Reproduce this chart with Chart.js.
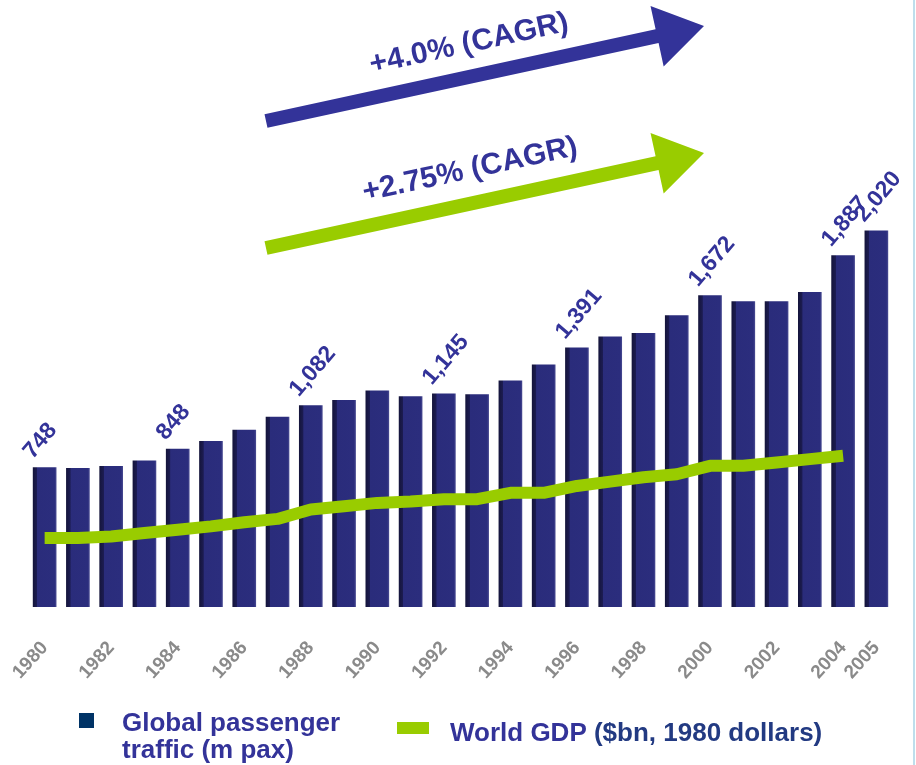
<!DOCTYPE html>
<html>
<head>
<meta charset="utf-8">
<script src="https://cdn.jsdelivr.net/npm/chart.js@4/dist/chart.umd.min.js"></script>
<style>
  html, body { margin: 0; padding: 0; background: #ffffff; }
  #wrap { position: relative; width: 916px; height: 765px; }
</style>
</head>
<body>
<div id="wrap"><canvas id="chart" width="916" height="765"></canvas></div>
<script>
// Years on the category axis
const years = ['1980','1981','1982','1983','1984','1985','1986','1987','1988','1989',
               '1990','1991','1992','1993','1994','1995','1996','1997','1998','1999',
               '2000','2001','2002','2003','2004','2005'];

// Global passenger traffic, millions of passengers
const passengers = [748, 745, 755, 785, 848, 890, 950, 1020, 1082, 1110,
                    1160, 1130, 1145, 1140, 1215, 1300, 1391, 1450, 1470, 1565,
                    1672, 1640, 1640, 1690, 1887, 2020];

// World GDP, $bn in 1980 dollars (no figure yet for 2005)
const worldGdp = [11100, 11100, 11370, 11910, 12450, 12990, 13650, 14190, 15720, 16230,
                  16770, 16980, 17340, 17370, 18390, 18390, 19500, 20190, 20910, 21390,
                  22740, 22740, 23280, 23820, 24360, null];

// Years whose bars carry a value label, and years shown on the axis
const labelledYears = ['1980','1984','1988','1992','1996','2000','2004','2005'];
const tickYears = ['1980','1982','1984','1986','1988','1990','1992','1994','1996',
                   '1998','2000','2002','2004','2005'];

// Growth-rate callouts
const growthNotes = ['+4.0% (CAGR)', '+2.75% (CAGR)'];

// Legend texts
const legendTraffic = ['Global passenger', 'traffic (m pax)'];
const legendGdp = ['World GDP ', '($bn, 1980 dollars)'];

const NAVY = '#333399';
const GREEN = '#99cc00';
const FONT = "'Liberation Sans', Arial, sans-serif";
const BAR_W = 23;

// Shaded face for each bar: darker left side gives the extruded look
function barFill(c) {
  const chart = c.chart;
  const xs = chart.scales && chart.scales.x;
  if (!xs || c.dataIndex === undefined) return '#2b2d7d';
  const x = xs.getPixelForValue(c.dataIndex);
  if (!Number.isFinite(x)) return '#2b2d7d';
  const g = chart.ctx.createLinearGradient(x - BAR_W / 2, 0, x + BAR_W / 2, 0);
  g.addColorStop(0, '#15153c');
  g.addColorStop(0.17, '#1c1c52');
  g.addColorStop(0.19, '#2a2c7b');
  g.addColorStop(0.93, '#2b2d7d');
  g.addColorStop(1, '#45478f');
  return g;
}

function drawArrow(ctx, x0, y0, x1, y1, shaftW, headLen, headHalf, color) {
  const len = Math.hypot(x1 - x0, y1 - y0);
  const ux = (x1 - x0) / len, uy = (y1 - y0) / len;
  const nx = -uy, ny = ux;
  const bx = x1 - ux * headLen, by = y1 - uy * headLen;
  ctx.beginPath();
  ctx.moveTo(x0 + nx * shaftW / 2, y0 + ny * shaftW / 2);
  ctx.lineTo(bx + nx * shaftW / 2, by + ny * shaftW / 2);
  ctx.lineTo(bx + nx * headHalf, by + ny * headHalf);
  ctx.lineTo(x1, y1);
  ctx.lineTo(bx - nx * headHalf, by - ny * headHalf);
  ctx.lineTo(bx - nx * shaftW / 2, by - ny * shaftW / 2);
  ctx.lineTo(x0 - nx * shaftW / 2, y0 - ny * shaftW / 2);
  ctx.closePath();
  ctx.fillStyle = color;
  ctx.fill();
}

const decorations = {
  id: 'decorations',
  afterDatasetsDraw(chart) {
    const ctx = chart.ctx;

    // value labels over selected bars
    const meta = chart.getDatasetMeta(1);
    ctx.save();
    ctx.fillStyle = NAVY;
    ctx.font = 'bold 23px ' + FONT;
    ctx.textAlign = 'left';
    ctx.textBaseline = 'alphabetic';
    years.forEach((yr, i) => {
      if (!labelledYears.includes(yr)) return;
      const el = meta.data[i];
      ctx.save();
      ctx.translate(el.x - 12, el.y - 8);
      ctx.rotate(-0.86);
      ctx.fillText(passengers[i].toLocaleString('en-US'), 0, 0);
      ctx.restore();
    });
    ctx.restore();
  },
  afterDraw(chart) {
    const ctx = chart.ctx;
    ctx.save();

    // growth arrows with their captions
    const arrows = [
      { x0: 266, y0: 121, x1: 704, y1: 26, color: NAVY, text: growthNotes[0], tx: 469, ty: 44 },
      { x0: 266, y0: 248, x1: 704, y1: 153, color: GREEN, text: growthNotes[1], tx: 470, ty: 170 }
    ];
    arrows.forEach(a => {
      drawArrow(ctx, a.x0, a.y0, a.x1, a.y1, 14, 48, 31, a.color);
      const ang = Math.atan2(a.y1 - a.y0, a.x1 - a.x0);
      ctx.save();
      ctx.translate(a.tx, a.ty);
      ctx.rotate(ang);
      ctx.fillStyle = NAVY;
      ctx.font = 'bold 30px ' + FONT;
      ctx.textAlign = 'center';
      ctx.textBaseline = 'middle';
      ctx.fillText(a.text, 0, 0);
      ctx.restore();
    });

    // legend
    ctx.font = 'bold 26px ' + FONT;
    ctx.textAlign = 'left';
    ctx.textBaseline = 'alphabetic';
    ctx.fillStyle = '#003366';
    ctx.fillRect(79, 713, 15, 15);
    ctx.fillStyle = NAVY;
    ctx.fillText(legendTraffic[0], 122, 731);
    ctx.fillText(legendTraffic[1], 122, 758);
    ctx.fillStyle = GREEN;
    ctx.fillRect(397, 722, 32, 12);
    ctx.fillStyle = NAVY;
    ctx.fillText(legendGdp[0], 450, 741);
    const w0 = ctx.measureText(legendGdp[0]).width;
    ctx.fillStyle = '#223a82';
    ctx.fillText(legendGdp[1], 450 + w0, 741);

    // thin frame line on the right edge
    ctx.strokeStyle = '#a9d3e6';
    ctx.lineWidth = 1.5;
    ctx.beginPath();
    ctx.moveTo(914, 0);
    ctx.lineTo(914, 765);
    ctx.stroke();

    ctx.restore();
  }
};

new Chart(document.getElementById('chart'), {
  data: {
    labels: years,
    datasets: [
      {
        type: 'line',
        label: 'World GDP ($bn, 1980 dollars)',
        data: worldGdp,
        yAxisID: 'y1',
        borderColor: GREEN,
        backgroundColor: GREEN,
        borderWidth: 12,
        borderCapStyle: 'butt',
        borderJoinStyle: 'round',
        pointRadius: 0,
        tension: 0,
        order: 0
      },
      {
        type: 'bar',
        label: 'Global passenger traffic (m pax)',
        data: passengers,
        yAxisID: 'y',
        backgroundColor: barFill,
        borderWidth: 0,
        barThickness: BAR_W,
        order: 1
      }
    ]
  },
  options: {
    responsive: false,
    devicePixelRatio: 1,
    animation: false,
    layout: { padding: { left: 28, right: 23, top: 160, bottom: 68 } },
    plugins: {
      legend: { display: false },
      tooltip: { enabled: false }
    },
    scales: {
      x: {
        offset: true,
        grid: { display: false, drawTicks: false },
        border: { display: false },
        ticks: {
          autoSkip: false,
          minRotation: 48,
          maxRotation: 48,
          padding: 30,
          color: '#8a8a8a',
          font: { family: FONT, weight: 'bold', size: 19 },
          callback: (v, i) => tickYears.includes(years[i]) ? years[i] : ''
        },
        afterFit: (scale) => {
          scale.height = 90;
          scale.paddingLeft = 0;
          scale.paddingRight = 0;
        }
      },
      y: { display: false, min: 0, max: 2400 },
      y1: { display: false, min: 0, max: 72000 }
    }
  },
  plugins: [decorations]
});
</script>
</body>
</html>
